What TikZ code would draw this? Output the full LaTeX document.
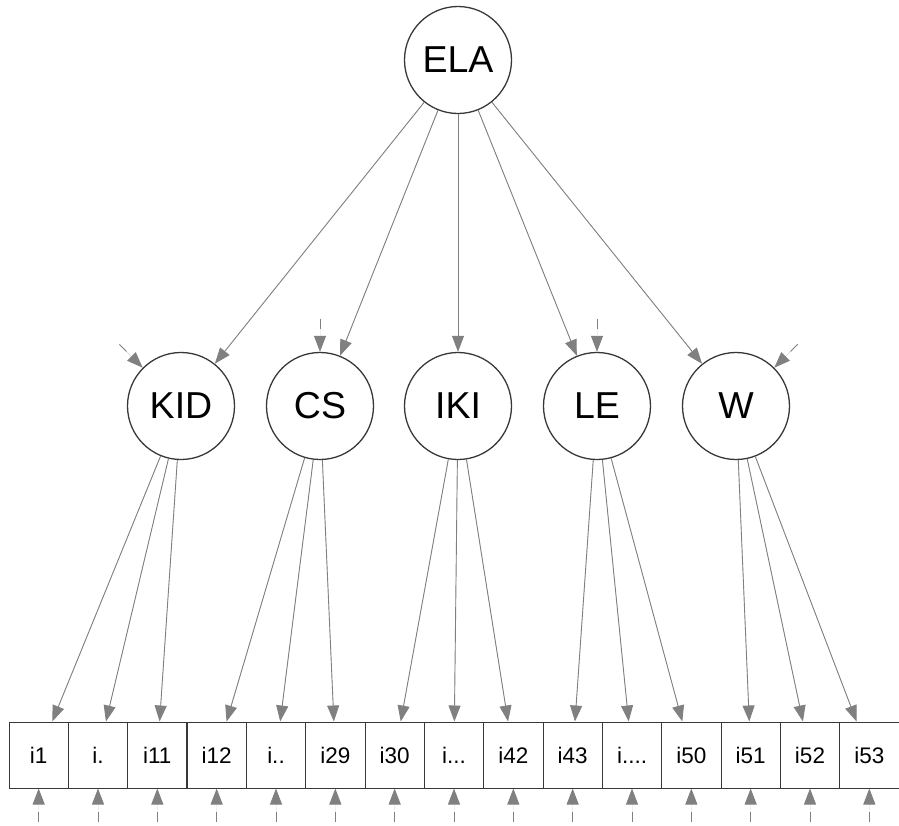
\documentclass[tikz,border=0pt]{standalone}
\usepackage{fontspec}
\setmainfont{Liberation Sans}
\usepackage{tikz}
\usetikzlibrary{positioning, calc, arrows.meta}
\definecolor{pathgray}{rgb}{0.5, 0.5, 0.5}
\definecolor{rimgray}{rgb}{0.22, 0.22, 0.22}

\begin{document}
\begin{tikzpicture}[x=1pt, y=1pt,
	latent/.style={draw=rimgray, line width=1.3pt, circle, minimum size=107pt, inner sep=0pt, font=\fontsize{37.5}{40}\selectfont},
	manifest/.style={draw=rimgray, line width=1pt, rectangle, minimum width=59.33pt, minimum height=66pt, inner sep=0pt, font=\fontsize{22.5}{24}\selectfont},
	loading/.style={draw=pathgray, fill=pathgray, line width=0.9pt, -{Triangle[length=16pt,width=12pt]}},
	resid/.style={loading, dash pattern=on 10pt off 40pt}]
	\useasboundingbox (0,0) rectangle (899,-825);
	\pgfmathsetmacro{\rowy}{-755}
	\pgfmathsetmacro{\latenty}{-406}
	\pgfmathsetmacro{\residlen}{33}
	
	\node[latent] (ELA) at (458,-60) {ELA};
	\node[latent] (KID) at (181,\latenty) {KID};
	\node[latent] (CS) at (320,\latenty) {CS};
	\node[latent] (IKI) at (458,\latenty) {IKI};
	\node[latent] (LE) at (597,\latenty) {LE};
	\node[latent] (W) at (736,\latenty) {W};
	
	\node[manifest] (b1) at (38.67,\rowy) {i1};
	\node[manifest] (b2) at (98.00,\rowy) {i.};
	\node[manifest] (b3) at (157.33,\rowy) {i11};
	\node[manifest] (b4) at (216.67,\rowy) {i12};
	\node[manifest] (b5) at (276.00,\rowy) {i..};
	\node[manifest] (b6) at (335.33,\rowy) {i29};
	\node[manifest] (b7) at (394.67,\rowy) {i30};
	\node[manifest] (b8) at (454.00,\rowy) {i...};
	\node[manifest] (b9) at (513.33,\rowy) {i42};
	\node[manifest] (b10) at (572.67,\rowy) {i43};
	\node[manifest] (b11) at (632.00,\rowy) {i....};
	\node[manifest] (b12) at (691.33,\rowy) {i50};
	\node[manifest] (b13) at (750.67,\rowy) {i51};
	\node[manifest] (b14) at (810.00,\rowy) {i52};
	\node[manifest] (b15) at (869.33,\rowy) {i53};
	
	\foreach \f in {KID, CS, IKI, LE, W}
		\draw[loading] (ELA) -- (\f);
	\foreach \f/\k in {KID/1, KID/2, KID/3, CS/4, CS/5, CS/6, IKI/7, IKI/8, IKI/9, LE/10, LE/11, LE/12, W/13, W/14, W/15}
		\draw[loading] (\f) -- (b\k);
	
	\draw[resid] ([shift={(135:\residlen)}]KID.135) -- (KID.135);
	\draw[resid] ([shift={(90:\residlen)}]CS.90) -- (CS.90);
	\draw[resid] ([shift={(90:\residlen)}]LE.90) -- (LE.90);
	\draw[resid] ([shift={(45:\residlen)}]W.45) -- (W.45);
	\foreach \k in {1,...,15}
		\draw[resid] ([yshift=-\residlen]b\k.south) -- (b\k.south);
\end{tikzpicture}
\end{document}
